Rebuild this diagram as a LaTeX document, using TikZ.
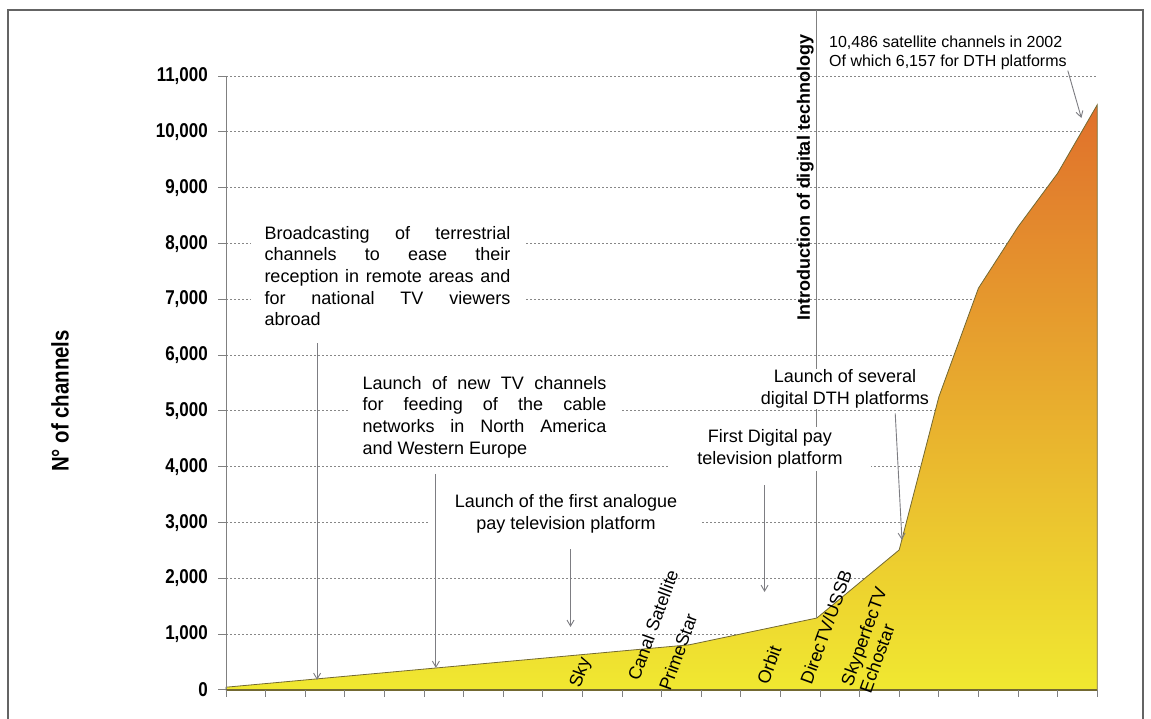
\documentclass[tikz,border=0pt]{standalone}
\usepackage{fontspec}
\setmainfont{Liberation Sans}
\usetikzlibrary{arrows.meta, positioning}

\definecolor{gridgrey}{RGB}{135,135,135}
\definecolor{arrowgrey}{RGB}{125,125,130}
\definecolor{framegrey}{RGB}{100,100,100}
\definecolor{lowyellow}{RGB}{240,232,48}
\definecolor{midorange}{RGB}{242,190,46}
\definecolor{toporange}{RGB}{224,112,44}
\definecolor{edgeolive}{RGB}{115,105,50}

\tolerance=10000
\hyphenpenalty=10000

\begin{document}
\begin{tikzpicture}[x=1pt, y=1pt]
  \tikzstyle{every node}=[inner sep=2pt]
  \tikzstyle{frame}=[framegrey, line width=1.2pt]
  \tikzstyle{gridline}=[gridgrey, line width=1pt, dash pattern=on 1.5pt off 2.5pt]
  \tikzstyle{area}=[draw=edgeolive, line width=0.8pt, bottom color=lowyellow, middle color=midorange, top color=toporange]
  \tikzstyle{yaxis}=[gray, line width=1pt]
  \tikzstyle{xaxis}=[edgeolive, line width=2pt]
  \tikzstyle{introline}=[gray, line width=0.9pt]
  \tikzstyle{pointer}=[arrowgrey, line width=0.9pt, -{Straight Barb[length=6pt,width=7pt]}]
  \tikzstyle{eventtext}=[fill=white, font=\fontsize{18}{21.6}\selectfont]
  \tikzstyle{ticklabel}=[anchor=east, inner sep=0pt, xscale=0.85, font=\fontsize{20}{24}\selectfont\bfseries]
  \tikzstyle{platform}=[rotate=70, inner sep=0pt, font=\fontsize{18}{20}\selectfont]

  \useasboundingbox (-226,-29) rectangle (925,690);

  % outer frame
  \coordinate (ftl) at (-218,680);
  \coordinate (ftr) at (917,680);
  \draw[frame] (-218,-29) -- (ftl) -- (ftr) -- (917,-29);

  \begin{scope}[x=39.6pt, y=0.0558pt]
    % grid
    \foreach \k in {1,...,11}
      \draw[gridline] (0,\k000) -- (22,\k000);

    % channel count per year
    \coordinate (c0) at (0,50);
    \coordinate (c1) at (11.7,810);
    \coordinate (dig) at (14.92,1290);
    \coordinate (c3) at (17,2510);
    \coordinate (c4) at (18,5250);
    \coordinate (c5) at (19,7200);
    \coordinate (c6) at (20,8300);
    \coordinate (c7) at (21,9260);
    \coordinate (c8) at (22,10486);
    \draw[area] (0,0) -- (c0) -- (c1) -- (dig) -- (c3) -- (c4) -- (c5)
      -- (c6) -- (c7) -- (c8) -- (22,0) -- cycle;

    % axes
    \draw[yaxis] (0,0) -- (0,11000);
    \foreach \k in {0,...,11} {
      \draw[yaxis] (0,\k000) -- ++(-8pt,0);
      \node[ticklabel] (tick\k) at ([xshift=-18pt]0,\k000) {\ifnum\k=0 0\else\k,000\fi};
    }
    \draw[xaxis] (0,0) -- (22,0);
    \foreach \i in {0,...,22}
      \draw[yaxis] (\i,0) -- ++(0,-7pt);

    % arrow targets
    \coordinate (b1) at (2.3,180);
    \coordinate (b2) at (5.3,395);
    \coordinate (b3) at (8.7,1130);
    \coordinate (b4) at (13.6,1756);
    \coordinate (b5) at (17.07,2690);
    \coordinate (b6) at (21.6,10250);
  \end{scope}

  \node[rotate=90, xscale=0.85, font=\fontsize{24}{28}\selectfont\bfseries] (ytitle) at (-166,289) {N° of channels};

  % digital era
  \draw[introline] (dig |- ftl) -- (dig);
  \node[rotate=90, anchor=south, inner sep=1pt, font=\fontsize{18}{21}\selectfont\bfseries] (introtxt) at (589,512) {Introduction of digital technology};

  % events
  \node[eventtext, text width=246pt, align=justify, inner xsep=14pt, inner ysep=4pt] (broad) at (161.5,414)
    {Broadcasting of terrestrial\linebreak channels to ease their\linebreak reception in remote areas and\linebreak for national TV viewers\linebreak abroad};
  \node[eventtext, text width=244pt, align=justify, inner xsep=15pt, inner ysep=3pt] (cable) at (258.5,273)
    {Launch of new TV channels\linebreak for feeding of the cable\linebreak networks in North America\linebreak and Western Europe};
  \node[eventtext, align=center, inner xsep=25pt, inner ysep=3pt] (analogue) at (340,176)
    {Launch of the first analogue\\pay television platform};
  \node[eventtext, align=center, inner xsep=28pt, inner ysep=3pt] (firstdig) at (544,241)
    {First Digital pay\\television platform};
  \node[eventtext, align=center, inner sep=1pt] (several) at (619,301)
    {Launch of several\\digital DTH platforms};
  \node[anchor=west, align=left, inner sep=1pt, font=\fontsize{16}{19}\selectfont] (total) at (602,637.5)
    {10,486 satellite channels in 2002\\Of which 6,157 for DTH platforms};

  % platforms
  \node[platform] (sky) at (355,17) {Sky};
  \node[platform] (canal) at (427,65) {Canal Satellite};
  \node[platform] (prime) at (452,38) {PrimeStar};
  \node[platform] (orbit) at (543,25) {Orbit};
  \node[platform] (directv) at (600,63) {DirecTV/USSB};
  \node[platform, align=left] (skyperfec) at (647,50) {SkyperfecTV\\Echostar};

  % pointers
  \draw[pointer, shorten <=13pt] (broad.south -| b1) -- (b1);
  \draw[pointer, shorten <=13pt] (cable.south -| b2) -- (b2);
  \draw[pointer, shorten <=13pt] (analogue.south -| b3) -- (b3);
  \draw[pointer, shorten <=14pt] (firstdig.south -| b4) -- (b4);
  \draw[pointer, shorten <=4pt] ([xshift=50pt]several.south) -- (b5);
  \draw[pointer] (total.south east) -- (b6);
\end{tikzpicture}
\end{document}
